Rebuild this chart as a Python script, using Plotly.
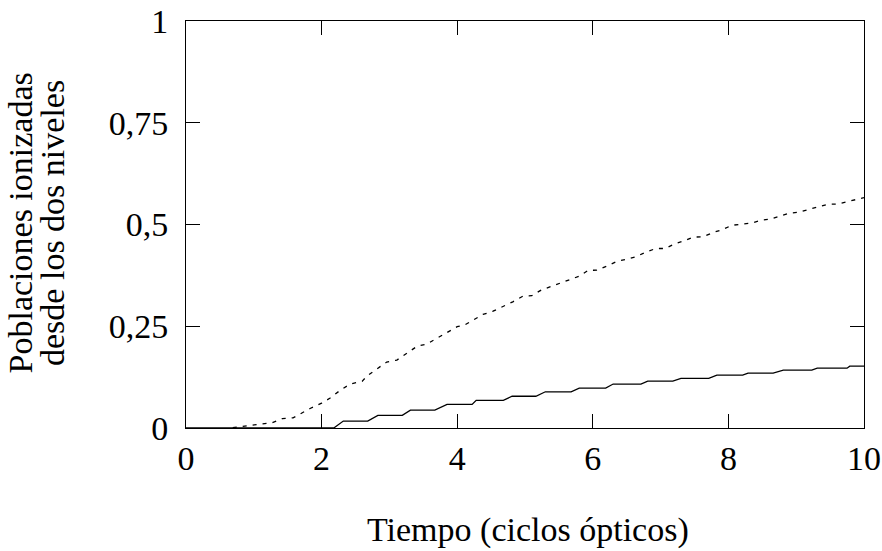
import plotly.graph_objects as go

# Solid curve (staircase): time (optical cycles) and ionized population
t_solid = [0, 2.18, 2.32, 2.68, 2.83, 3.19, 3.31, 3.67, 3.85, 4.22, 4.28, 4.68, 4.81, 5.16,
           5.30, 5.68, 5.80, 6.19, 6.30, 6.71, 6.81, 7.18, 7.30, 7.71, 7.83, 8.21, 8.29,
           8.66, 8.81, 9.23, 9.31, 9.75, 9.79, 10.0]
p_solid = [0, 0, 0.017, 0.017, 0.031, 0.031, 0.044, 0.044, 0.058, 0.058, 0.068, 0.068,
           0.078, 0.078, 0.089, 0.089, 0.098, 0.098, 0.108, 0.108, 0.115, 0.115, 0.122,
           0.122, 0.130, 0.130, 0.135, 0.135, 0.142, 0.142, 0.147, 0.147, 0.152, 0.152]

# Dotted curve
t_dot = [0.69, 1.27, 1.42, 1.58, 1.83, 2.0, 2.12, 2.27, 2.42, 2.6, 2.67, 2.82, 2.96, 3.11,
         3.26, 3.41, 3.55, 3.70, 3.85, 4.0, 4.11, 4.26, 4.38, 4.53, 4.68, 4.82, 4.97, 5.1,
         5.24, 5.37, 5.52, 5.65, 5.8, 5.93, 6.06, 6.21, 6.35, 6.5, 6.64, 6.78, 6.93, 7.07,
         7.2, 7.35, 7.48, 7.63, 7.77, 7.92, 8.05, 8.35, 8.5, 8.61, 8.76, 8.9, 9.03, 9.17,
         9.32, 9.47, 9.6, 9.75, 9.9, 10.0]
p_dot = [0.001, 0.013, 0.023, 0.025, 0.048, 0.061, 0.073, 0.092, 0.108, 0.115, 0.128, 0.146,
         0.162, 0.167, 0.185, 0.201, 0.206, 0.220, 0.234, 0.249, 0.253, 0.267, 0.279, 0.287,
         0.298, 0.310, 0.324, 0.325, 0.339, 0.347, 0.356, 0.365, 0.373, 0.387, 0.388, 0.398,
         0.409, 0.415, 0.421, 0.432, 0.441, 0.441, 0.452, 0.460, 0.469, 0.470, 0.480, 0.488,
         0.498, 0.504, 0.511, 0.513, 0.521, 0.528, 0.530, 0.536, 0.542, 0.550, 0.550, 0.556,
         0.563, 0.566]

x_ticks = [0, 2, 4, 6, 8, 10]
y_ticks = [0, 0.25, 0.5, 0.75, 1]
y_tick_text = ["0", "0,25", "0,5", "0,75", "1"]

x_title = "Tiempo (ciclos ópticos)"
y_title_1 = "Poblaciones ionizadas"
y_title_2 = "desde los dos niveles"

FONT = "Liberation Serif"
FS = 34

fig = go.Figure()
fig.add_trace(go.Scatter(x=t_solid, y=p_solid, mode="lines",
                         line=dict(color="black", width=1.3), showlegend=False))
fig.add_trace(go.Scatter(x=t_dot, y=p_dot, mode="lines",
                         line=dict(color="black", width=1.3, dash="4px,6px"), showlegend=False))

axis_common = dict(showgrid=False, zeroline=False, showline=True, linecolor="black",
                   linewidth=1, mirror="ticks", ticks="inside", ticklen=14,
                   tickcolor="black", tickwidth=1, automargin=False,
                   tickfont=dict(family=FONT, size=FS, color="black"))

fig.update_xaxes(range=[0, 10], tickvals=x_ticks, ticklabelstandoff=0, **axis_common)
fig.update_yaxes(range=[0, 1], tickvals=y_ticks, ticktext=y_tick_text,
                 ticklabelstandoff=10, **axis_common)

fig.add_annotation(text=x_title, xref="paper", yref="paper", x=0.505, y=-0.251,
                   xanchor="center", yanchor="middle", showarrow=False,
                   font=dict(family=FONT, size=FS, color="black"))
fig.add_annotation(text=y_title_1, xref="paper", yref="paper", x=-0.244, y=0.504,
                   xanchor="center", yanchor="middle", showarrow=False, textangle=-90,
                   font=dict(family=FONT, size=FS, color="black"))
fig.add_annotation(text=y_title_2, xref="paper", yref="paper", x=-0.196, y=0.504,
                   xanchor="center", yanchor="middle", showarrow=False, textangle=-90,
                   font=dict(family=FONT, size=FS, color="black"))

fig.update_layout(width=882, height=551, margin=dict(l=186, r=18, t=21, b=123),
                  plot_bgcolor="white", paper_bgcolor="white",
                  font=dict(family=FONT, color="black"))

fig.write_html("out.html")
